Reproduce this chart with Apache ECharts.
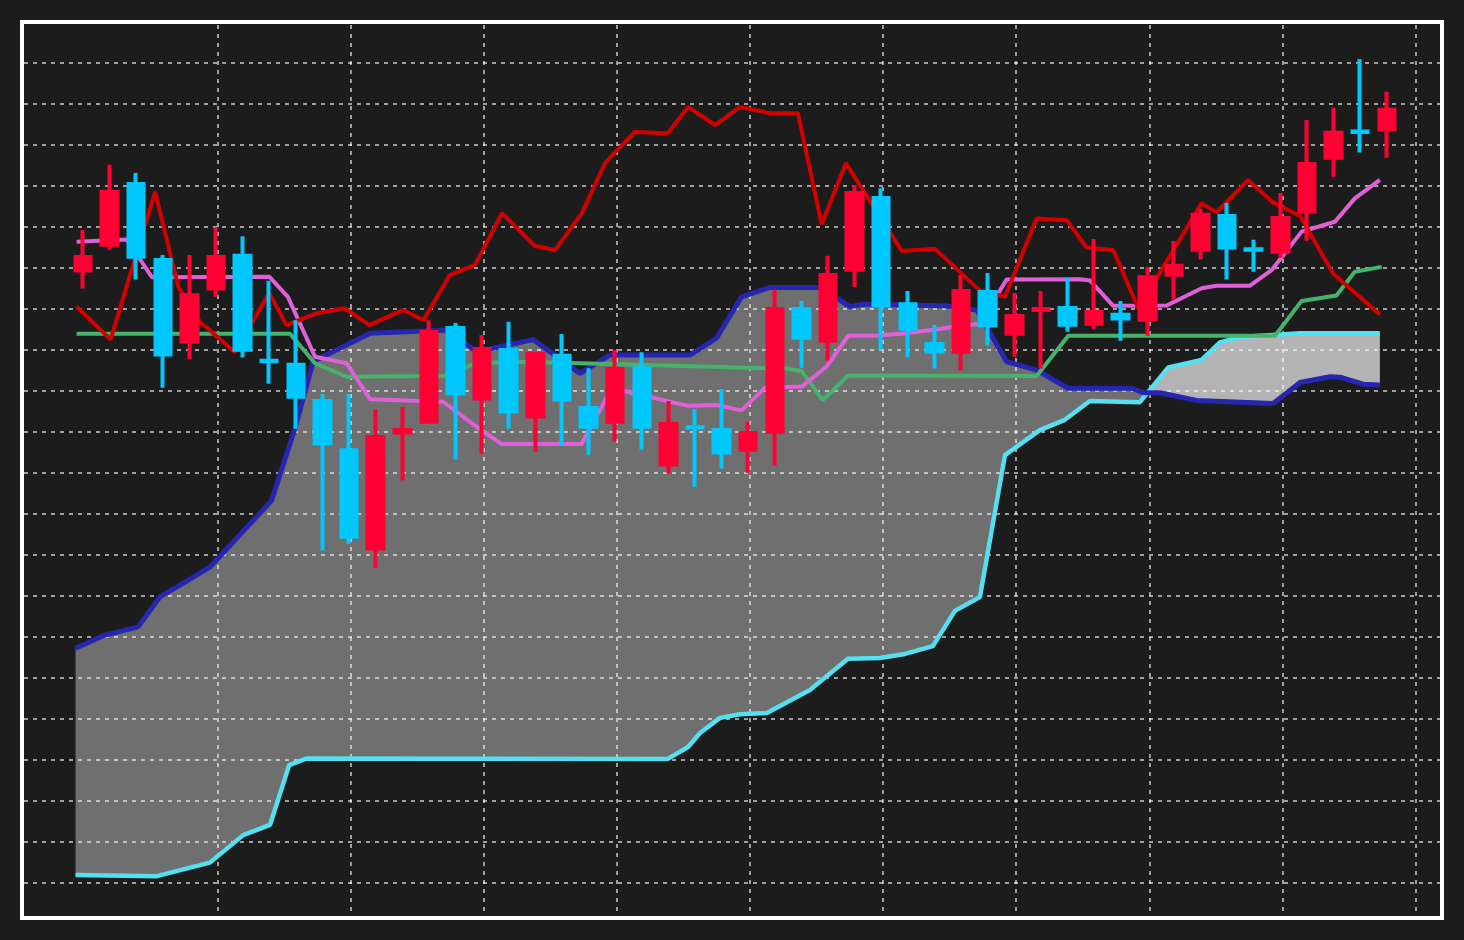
<!DOCTYPE html>
<html>
<head>
<meta charset="utf-8">
<script src="https://cdn.jsdelivr.net/npm/echarts@6/dist/echarts.min.js"></script>
<style>
html,body{margin:0;padding:0;background:#1c1c1c;}
#chart{width:1464px;height:940px;}
</style>
</head>
<body>
<div id="chart"></div>
<script>
// Candles: [open, close, low, high], one per bar (bar index = position in list)
const candles = [
[259.3,262.6,254.9,269.2],[265.6,278.5,264.4,285.1],[280.4,262.7,257.1,283.1],[261.9,238.8,230.7,263.1],
[242.0,253.3,237.7,263.1],[254.9,262.6,252.9,269.8],[262.9,240.0,238.1,267.7],[237.3,237.2,231.7,256.8],
[236.3,228.5,220.7,247.2],[227.5,217.1,191.0,229.2],[215.5,194.4,192.7,229.2],[191.5,218.7,186.8,225.5],
[219.8,220.4,208.1,226.0],[222.4,244.3,222.0,247.2],[245.3,229.3,213.2,246.5],[228.1,240.2,214.6,243.6],
[239.9,224.9,220.7,246.8],[223.7,239.0,215.1,239.4],[238.5,227.8,216.6,243.8],[225.8,221.2,214.4,235.5],
[222.4,235.3,217.6,239.9],[235.5,221.2,215.6,239.4],[212.0,221.9,209.8,227.5],[221.1,221.0,206.6,225.5],
[220.4,214.9,211.0,230.4],[215.6,219.7,210.0,222.4],[220.0,249.9,211.7,254.6],[249.9,242.9,235.6,251.9],
[242.2,258.2,237.3,262.9],[259.5,278.2,255.3,280.2],[277.0,250.8,240.0,279.4],[251.1,245.1,238.1,254.3],
[241.4,239.5,235.4,246.0],[239.5,254.3,234.9,258.2],[254.1,245.9,241.0,258.7],[243.9,248.2,238.3,253.8],
[249.7,249.9,235.4,254.3],[250.2,246.1,244.4,257.5],[246.3,249.2,245.1,267.0],[248.5,247.6,242.2,251.9],
[247.3,257.7,243.4,260.2],[258.3,260.5,252.2,266.5],[264.4,272.9,262.0,274.3],[272.6,264.9,257.1,275.8],
[264.5,264.4,259.0,266.8],[263.9,272.1,262.4,278.2],[273.7,285.3,266.6,296.0],[286.8,292.9,282.2,299.0],
[293.2,293.1,288.1,310.9],[293.7,298.5,286.8,302.9]
];

// Indicator lines: [time (in bar units), value]
const redLine = [
[-0.24,250.5],[1.04,242.5],[2.71,278.5],[3.58,255.4],[4.40,246.8],[5.71,239.4],[7.00,253.8],[7.65,246.0],
[8.78,248.9],[9.85,250.1],[10.76,246.0],[12.04,249.7],[12.79,247.2],[13.79,258.2],[14.73,260.7],[15.75,273.3],
[16.99,265.3],[17.74,264.3],[18.75,273.3],[19.62,285.5],[20.74,293.1],[21.98,292.8],[22.74,299.2],[23.75,294.8],
[24.69,299.2],[25.82,297.7],[26.87,297.7],[27.76,270.6],[28.67,285.5],[30.77,264.1],[32.02,264.6],[33.71,254.4],
[34.65,252.9],[35.84,272.0],[36.97,271.6],[37.72,264.9],[38.72,264.3],[39.66,250.1],[42.04,275.7],[42.60,273.5],
[43.79,281.4],[44.70,276.0],[45.74,272.6],[46.99,258.5],[48.74,248.6]
];
const pinkLine = [
[-0.24,266.3],[1.64,266.9],[2.59,257.7],[7.00,257.8],[7.70,252.9],[8.72,238.3],[9.91,236.7],[10.79,227.9],
[13.54,227.3],[14.80,221.2],[15.73,217.0],[18.74,217.0],[19.80,229.8],[20.43,229.8],[22.75,226.3],[23.81,226.5],
[24.75,225.2],[25.63,230.7],[27.01,231.0],[27.95,235.9],[28.76,243.4],[29.83,243.4],[30.95,244.0],[33.71,246.4],
[34.71,257.1],[37.47,257.2],[37.84,256.9],[38.72,250.7],[40.73,250.8],[42.04,255.0],[42.60,255.6],[43.86,255.6],
[44.67,259.4],[45.80,268.8],[47.05,271.2],[47.80,276.9],[48.74,281.4]
];
const greenLine = [
[-0.24,243.9],[7.78,243.9],[8.72,236.7],[9.91,233.4],[13.54,233.6],[14.61,236.3],[15.86,237.1],[18.68,236.7],
[25.69,235.5],[26.38,235.5],[27.01,234.8],[27.80,227.7],[28.76,233.7],[35.84,233.6],[37.03,243.4],[44.80,243.4],
[45.80,251.9],[47.11,253.2],[47.80,259.0],[48.81,260.2]
];
const spanA = [
[-0.28,167.2],[0.83,170.4],[2.07,172.4],[2.89,179.7],[3.83,183.3],[4.77,187.0],[7.09,203.2],[7.97,220.9],
[8.65,237.1],[10.79,244.0],[13.67,244.8],[14.80,239.5],[16.92,242.5],[18.68,234.2],[19.80,238.7],[22.81,238.7],
[23.81,242.8],[24.75,252.9],[25.82,255.2],[27.70,255.2],[28.82,250.5],[29.32,251.1],[32.39,250.7],[33.59,249.7],
[34.71,237.1],[35.84,235.0],[37.02,230.6],[39.41,230.6],[39.85,229.5],[40.47,229.5],[41.85,227.6],[44.73,226.9],
[45.74,232.0],[46.86,233.4],[47.24,233.3],[48.11,231.6],[48.74,231.4]
];
const spanB = [
[-0.28,111.9],[2.77,111.6],[4.77,114.9],[6.02,121.6],[7.03,124.1],[7.75,138.7],[8.41,140.3],[21.98,140.2],
[22.74,143.1],[23.19,146.5],[23.94,150.2],[24.69,151.1],[25.70,151.4],[27.32,157.0],[28.75,164.6],[29.95,164.8],
[30.89,165.8],[31.94,167.7],[32.77,176.3],[33.71,179.7],[34.65,214.3],[35.96,220.4],[36.90,222.9],[37.84,227.5],
[39.72,227.2],[40.79,235.7],[42.04,237.5],[42.73,241.8],[43.48,243.1],[44.73,243.6],[45.74,244.0],[48.74,244.0]
];

function valueAt(line, x) {
  for (let k = 0; k < line.length - 1; k++) {
    const [x0, y0] = line[k], [x1, y1] = line[k + 1];
    if (x >= x0 && x <= x1) return x1 === x0 ? y0 : y0 + (y1 - y0) * (x - x0) / (x1 - x0);
  }
  return null;
}
function findCross(a, b) {
  const xs = a.map(p => p[0]).concat(b.map(p => p[0])).sort((p, q) => p - q);
  let prev = null;
  for (const x of xs) {
    const va = valueAt(a, x), vb = valueAt(b, x);
    if (va == null || vb == null) continue;
    const d = va - vb;
    if (prev && prev.d > 0 && d < 0) {
      const t = prev.d / (prev.d - d);
      const xc = prev.x + (x - prev.x) * t;
      return [xc, valueAt(a, xc)];
    }
    prev = { x, d };
  }
  return null;
}
const cross = findCross(spanA, spanB);
const leftLobe = spanA.filter(p => p[0] < cross[0]).concat([cross], spanB.filter(p => p[0] < cross[0]).reverse());
const rightLobe = [cross].concat(spanA.filter(p => p[0] > cross[0]), spanB.filter(p => p[0] > cross[0]).reverse());

const chart = echarts.init(document.getElementById('chart'), null, { renderer: 'canvas' });
const gridLine = { color: 'rgba(255,255,255,0.58)', width: 2, type: [4, 5] };
const hiddenParts = { axisLine: { show: false }, axisTick: { show: false }, axisLabel: { show: false } };

chart.setOption({
  backgroundColor: '#1c1c1c',
  animation: false,
  grid: [
    { left: 24, right: 24, top: 21.7, bottom: 16.3 },
    { left: 84.5, right: 48.5, top: 25, bottom: 29 }
  ],
  xAxis: [
    Object.assign({ type: 'value', gridIndex: 0, min: -2.217, max: 51.0, splitLine: { show: false } }, hiddenParts),
    Object.assign({ type: 'value', gridIndex: 1, min: 0, max: 50, interval: 5,
      splitLine: { show: true, showMinLine: false, showMaxLine: true, lineStyle: gridLine } }, hiddenParts)
  ],
  yAxis: [
    Object.assign({ type: 'value', gridIndex: 0, min: 100, max: 320, interval: 10,
      splitLine: { show: true, showMinLine: false, showMaxLine: false, lineStyle: gridLine } }, hiddenParts),
    Object.assign({ type: 'value', gridIndex: 1, min: 0, max: 1, splitLine: { show: false } }, hiddenParts)
  ],
  series: [
    {
      type: 'custom', xAxisIndex: 0, yAxisIndex: 0, z: -1, silent: true,
      data: [[0, 200]],
      renderItem: function (params, api) {
        const toPx = p => api.coord(p);
        return {
          type: 'group',
          children: [
            { type: 'polygon', shape: { points: leftLobe.map(toPx) }, style: { fill: '#6f6f6f' } },
            { type: 'polygon', shape: { points: rightLobe.map(toPx) }, style: { fill: '#b4b4b4' } }
          ]
        };
      }
    },
    { type: 'line', data: spanB, symbol: 'none', z: 3, lineStyle: { color: '#55e0f2', width: 4.5 } },
    { type: 'line', data: spanA, symbol: 'none', z: 3, lineStyle: { color: '#2626b0', width: 5 } },
    { type: 'line', data: greenLine, symbol: 'none', z: 3, lineStyle: { color: '#45b36b', width: 4 } },
    { type: 'line', data: pinkLine, symbol: 'none', z: 3, lineStyle: { color: '#e060d8', width: 4 } },
    { type: 'line', data: redLine, symbol: 'none', z: 3, lineStyle: { color: '#d40000', width: 4 } },
    {
      type: 'candlestick', z: 5, barWidth: 16,
      data: candles.map((c, i) => [i].concat(c)),
      itemStyle: { color: '#ff0033', color0: '#00c8ff', borderColor: '#ff0033', borderColor0: '#00c8ff', borderWidth: 4 }
    }
  ],
  graphic: [{
    type: 'rect', z: 100, silent: true,
    shape: { x: 22, y: 22, width: 1420, height: 896 },
    style: { fill: null, stroke: '#ffffff', lineWidth: 4 }
  }]
});
</script>
</body>
</html>
